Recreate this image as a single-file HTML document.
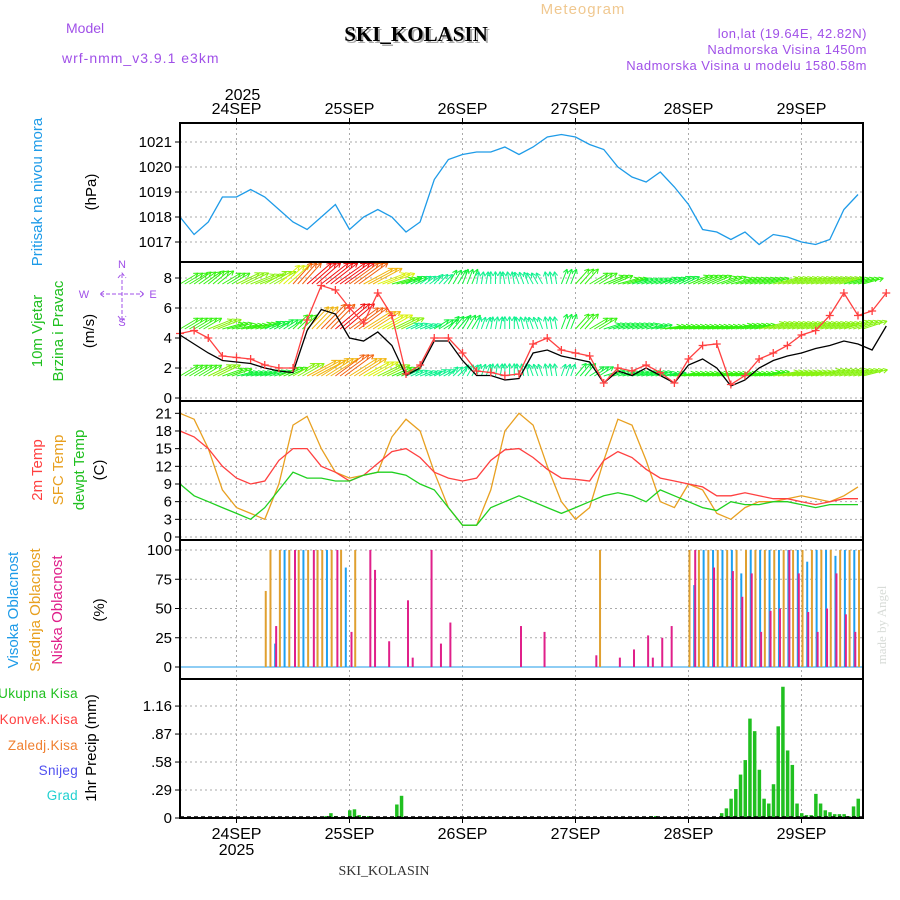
<!DOCTYPE html>
<html><head><meta charset="utf-8"><style>
body{margin:0;background:#fff;}
svg{display:block;font-family:"Liberation Sans",sans-serif;}
</style></head><body>
<svg id="c" width="900" height="900" viewBox="0 0 900 900">
<text x="583" y="14" font-size="15" fill="#f0c890" text-anchor="middle" letter-spacing="1">Meteogram</text>
<text x="418" y="43" font-size="21" font-weight="bold" font-family="Liberation Serif,serif" fill="#aaa" text-anchor="middle">SKI_KOLASIN</text>
<text x="416" y="41" font-size="21" font-weight="bold" font-family="Liberation Serif,serif" fill="#000" text-anchor="middle">SKI_KOLASIN</text>
<text x="66" y="33" font-size="14" fill="#a050e8">Model</text>
<text x="62" y="63" font-size="14" fill="#a050e8" letter-spacing="1">wrf-nmm_v3.9.1 e3km</text>
<text x="867" y="38" font-size="13" fill="#a050e8" text-anchor="end" letter-spacing="0.5">lon,lat (19.64E, 42.82N)</text>
<text x="867" y="54" font-size="13" fill="#a050e8" text-anchor="end" letter-spacing="0.5">Nadmorska Visina 1450m</text>
<text x="867" y="70" font-size="13" fill="#a050e8" text-anchor="end" letter-spacing="0.5">Nadmorska Visina u modelu 1580.58m</text>
<text x="384" y="875" font-size="14" font-family="Liberation Serif,serif" fill="#333" text-anchor="middle">SKI_KOLASIN</text>
<text transform="translate(886,625) rotate(-90)" font-size="13" font-family="Liberation Serif,serif" fill="#d8dcd8" text-anchor="middle">made by Angel</text>
<g id="g"></g>
</svg>
<script>
// ---- data ----
const dayLabels=["24SEP","25SEP","26SEP","27SEP","28SEP","29SEP"];
const pressure=[1018.0,1017.3,1017.8,1018.8,1018.8,1019.1,1018.8,1018.3,1017.8,1017.5,1018.0,1018.5,1017.5,1018.0,1018.3,1018.0,1017.4,1017.8,1019.5,1020.3,1020.5,1020.6,1020.6,1020.8,1020.5,1020.8,1021.2,1021.3,1021.2,1020.9,1020.7,1020.0,1019.6,1019.4,1019.8,1019.2,1018.5,1017.5,1017.4,1017.1,1017.4,1016.9,1017.3,1017.2,1017.0,1016.9,1017.1,1018.3,1018.9];
const pressTicks=[1017,1018,1019,1020,1021];
const windSpeed=[4.2,3.6,3.0,2.5,2.4,2.3,2.0,1.8,1.7,4.5,5.9,5.6,4.0,3.8,4.4,3.5,1.5,2.0,3.8,3.8,2.5,1.5,1.5,1.2,1.3,3.0,3.2,2.8,2.6,2.4,1.0,1.8,1.5,2.0,1.5,1.0,2.2,2.6,2.0,0.8,1.2,2.0,2.5,2.8,3.0,3.3,3.5,3.8,3.6,3.2,4.8];
const windGust=[4.3,4.5,4.0,2.8,2.7,2.6,2.2,2.0,2.0,5.2,7.5,7.2,6.0,5.0,7.0,5.5,1.6,2.2,4.0,4.0,3.0,1.8,1.7,1.5,1.6,3.6,4.0,3.2,3.0,2.8,1.0,2.0,1.8,2.2,1.7,1.0,2.6,3.5,3.6,0.9,1.5,2.6,3.0,3.5,4.2,4.5,5.5,7.0,5.5,5.8,7.0];
const windTicks=[0,2,4,6,8];
const dirTop=[60,55,50,60,65,70,60,45,30,35,40,45,50,60,70,80,70,60,45,30,20,10,0,350,340,330,350,20,40,60,70,80,80,80,75,70,70,70,75,80,80,80,80,80,80,80,80,80,80];
const spdTop=[5,5,5,5,6,6,6,7,9,10,10,10,9,8,7,5,4,3,3,4,4,3,3,3,3,3,3,4,5,5,5,5,4,4,4,4,5,5,5,5,5,5,6,6,6,6,6,5,5];
const dirMid=[60,60,70,80,85,80,70,60,45,40,40,45,50,55,60,65,75,80,60,40,30,20,10,0,345,340,350,20,40,60,80,80,80,85,90,90,90,90,90,85,85,80,80,80,80,80,80,75,75];
const spdMid=[5,5,6,5,5,5,4,4,5,8,9,10,9,8,7,6,3,3,4,4,4,3,3,3,3,3,3,4,5,5,4,4,4,4,5,5,5,5,5,5,5,6,6,6,6,6,6,6,6];
const dirLow=[60,60,65,75,85,85,80,70,60,60,55,50,55,60,65,70,75,80,70,50,30,20,10,0,350,340,350,20,40,60,80,85,85,85,90,90,90,90,90,90,90,85,85,85,85,80,80,80,80];
const spdLow=[5,5,6,5,4,4,4,5,6,8,8,9,8,7,6,5,3,3,3,3,3,3,3,3,3,3,3,3,4,4,4,4,4,4,4,5,5,5,5,5,5,5,6,6,6,6,6,6,6];
const temp2m=[18,17,15,12,10,9,9.5,13,15,15,12,11,9.5,10.5,12.5,14.5,15,13.5,11,10,9.5,10,13,14.8,15,13.5,11.5,10,9.8,9.5,13,14.5,13.5,11.5,10,9.5,9,8.5,7,7,7.5,7,6.5,6.5,6,5.5,6,6.5,6.5];
const tempSfc=[21,20,15,8,5,4,3,9,19,20.5,15,11,10,10.5,11,17,20,18,11,5,2,2,8,18,21,19,12,6,3,5,13,20,19,13,6,5,9,8,4,3,5,6,6,6.5,7,6.5,6,7,8.5];
const dewpt=[9,7,6,5,4,3,5,8,11,10,10,9.5,9.5,10.5,11,11,10.5,9,8,5,2,2,5,6,7,6,5,4,5,6,7,7.5,7,6,8,7,6,5,4.5,6,5.5,5.5,6,6,5.5,5,5.5,5.5,5.5];
const tempTicks=[0,3,6,9,12,15,18,21];
const highHours=[20,22,26,29,31,35,109,111,113,115,117,119,121,123,125,127,129,131,133,135,137,139,141,143];
const highVals=[20,100,100,100,100,85,70,100,100,100,100,80,100,100,100,100,100,100,90,100,100,95,100,100];
const midHours=[18,19,21,23,25,27,29,30,32,34,37,89,108,110,112,114,116,118,120,122,124,126,128,130,132,134,136,138,140,142,144];
const midVals=[65,100,100,100,100,100,100,100,100,100,100,100,100,100,100,100,100,100,100,100,100,100,100,100,100,100,100,100,100,100,100];
const lowHours=[20,24,28,33,36,40,41,44,48,49,53,55,57,72,77,88,93,96,99,100,102,104,109,113,117,119,121,123,125,127,129,131,133,135,137,139,141,143];
const lowVals=[35,100,100,100,30,100,83,22,57,8,100,20,38,35,30,10,8,15,27,8,25,35,100,85,82,60,80,30,48,50,100,80,47,30,50,80,45,30];
const cloudTicks=[0,25,50,75,100];
const precipHours=[31,32,33,36,37,38,39,40,46,47,100,101,115,116,117,118,119,120,121,122,123,124,125,126,127,128,129,130,131,132,133,134,135,136,137,138,139,140,141,142,143,144];
const precipVals=[0.02,0.05,0.02,0.08,0.09,0.03,0.02,0.02,0.14,0.23,0.02,0.02,0.05,0.1,0.2,0.3,0.45,0.6,1.03,0.9,0.5,0.2,0.15,0.35,0.95,1.36,0.7,0.55,0.15,0.05,0.03,0.03,0.25,0.15,0.08,0.06,0.04,0.04,0.04,0.02,0.12,0.2];
const precipTicks=[0,0.29,0.58,0.87,1.16];
// ---- layout ----
const NS="http://www.w3.org/2000/svg",G=document.getElementById('g');
const X0=180,X1=863,PX=113/24;
const xh=h=>X0+h*PX;
const x3=i=>xh(i*3);
function el(t,a,p){const e=document.createElementNS(NS,t);for(const k in a)e.setAttribute(k,a[k]);(p||G).appendChild(e);return e;}
function txt(x,y,s,a){const e=el('text',Object.assign({x:x,y:y,'font-size':15},a));e.textContent=s;return e;}
const panels=[[123,262],[262,401],[401,540],[540,679],[679,818]];
const yP=p=>142+(1021-p)*25;
const yW=v=>398-v*15;
const yT=v=>537-v*5.89;
const yC=v=>667-v*1.17;
const yR=v=>818-v*96.5;
function grid(top,bot,ticks,yf,fmt,name){
  for(let d=0;d<6;d++){const x=xh(12+24*d);
    const l=el('line',{x1:x,x2:x,y1:top,y2:bot,stroke:'#aaa','stroke-dasharray':'2,3'});
    }
  ticks.forEach(t=>{const y=yf(t);
    const l=el('line',{x1:X0,x2:X1,y1:y,y2:y,stroke:'#aaa','stroke-dasharray':'2,3'});
    
    el('line',{x1:X0-5,x2:X0,y1:y,y2:y,stroke:'#000'});
    const s=txt(X0-8,y+5,fmt(t),{'text-anchor':'end','font-size':15});
    });
}
function line(arr,xf,yf,col,name,w){const d=arr.map((v,i)=>(i?'L':'M')+xf(i).toFixed(1)+','+yf(v).toFixed(1)).join('');
  const p=el('path',{d:d,fill:'none',stroke:col,'stroke-width':w||1.3});
  return p;}
function vlabel(x,y,s,col,name,fs){const t=el('text',{transform:`translate(${x},${y}) rotate(-90)`,'font-size':fs||15,fill:col,'text-anchor':'middle'});t.textContent=s;
  }
// panel 1
grid(123,262,pressTicks,yP,v=>v,'pressure');
line(pressure.slice(0,49),x3,yP,'#1e9be8','pressure-line');
vlabel(42,192,'Pritisak na nivou mora','#1e9be8','pressure-title');
vlabel(96,192,'(hPa)','#000','pressure-unit');
// panel 2
grid(262,401,windTicks,yW,v=>v,'wind');
const rows=[[284,dirTop,spdTop],[329,dirMid,spdMid],[376,dirLow,spdLow]];
rows.forEach((r,ri)=>{for(let h=0;h<=145;h++){const i=Math.min(Math.floor(h/3),r[1].length-1);
  const a=(r[1][i])*Math.PI/180,s=r[2][i],L=s*4.2;const x=xh(h),y=r[0];
  const x2=x+Math.sin(a)*L,y2=Math.max(263,y-Math.cos(a)*L*0.75-3);
  const col=`hsl(${Math.max(0,220-s*22)},90%,50%)`;
  const ar=el('line',{x1:x,y1:y,x2:x2,y2:y2,stroke:col,'stroke-width':1});
  
  const b=Math.atan2(y2-y,x2-x);
  el('path',{d:`M${x2},${y2}L${x2-5*Math.cos(b-0.5)},${y2-5*Math.sin(b-0.5)}M${x2},${y2}L${x2-5*Math.cos(b+0.5)},${y2-5*Math.sin(b+0.5)}`,stroke:col,'stroke-width':1,fill:'none'});}});
line(windSpeed,x3,yW,'#000','wind-speed-line');
line(windGust,x3,yW,'#ff4040','wind-gust-line');
windGust.forEach((v,i)=>{const x=x3(i),y=yW(v);const m=el('path',{d:`M${x-4},${y}h8M${x},${y-4}v8`,stroke:'#ff4040','stroke-width':1.3});
  });
vlabel(42,331,'10m Vjetar','#20c020','wind-title');
vlabel(63,331,'Brzina i Pravac','#20c020','wind-subtitle');
vlabel(94,331,'(m/s)','#000','wind-unit');
const cg=el('g',{fill:'#a050e8','font-size':11,stroke:'none'});
[[122,268,'N'],[84,298,'W'],[153,298,'E'],[122,326,'S']].forEach(a=>{const t=el('text',{x:a[0],y:a[1],'text-anchor':'middle'},cg);t.textContent=a[2];});
el('path',{d:'M122,274v46M100,294h44M118,278l4,-5l4,5M118,316l4,5l4,-5M104,291l-4,3l4,3M140,291l4,3l-4,3',stroke:'#a050e8',fill:'none','stroke-dasharray':'4,2'});
// panel 3
grid(401,540,tempTicks,yT,v=>v,'temp');
line(tempSfc,x3,yT,'#e8a020','sfc-temp-line');
line(temp2m,x3,yT,'#ff4040','temp-2m-line');
line(dewpt,x3,yT,'#20d020','dewpoint-line');
vlabel(42,470,'2m Temp','#ff4040','temp-2m-title');
vlabel(63,470,'SFC Temp','#e8a020','sfc-temp-title');
vlabel(84,470,'dewpt Temp','#20c020','dewpoint-title');
vlabel(104,470,'(C)','#000','temp-unit');
// panel 4
grid(540,679,cloudTicks,yC,v=>v,'cloud');
el('line',{x1:X0,x2:X1,y1:667,y2:667,stroke:'#1e9be8','stroke-width':1});
function bars(hours,vals,col,off,name){hours.forEach((h,i)=>{const x=xh(h)+off;
  const b=el('rect',{x:x,y:yC(vals[i]),width:2,height:667-yC(vals[i]),fill:col});
  });}
bars(highHours,highVals,'#1ea0f0',0,'high-cloud-bar');
bars(midHours,midVals,'#e0a030',0,'mid-cloud-bar');
bars(lowHours,lowVals,'#e0208a',1,'low-cloud-bar');
vlabel(18,610,'Visoka Oblacnost','#1e9be8','high-cloud-title');
vlabel(40,610,'Srednja Oblacnost','#e8a020','mid-cloud-title');
vlabel(62,610,'Niska Oblacnost','#e0208a','low-cloud-title');
vlabel(104,610,'(%)','#000','cloud-unit');
// panel 5
grid(679,818,precipTicks,yR,v=>v===0?'0':v.toFixed(2).replace(/^0/,''),'precip');
precipHours.forEach((h,i)=>{const x=xh(h)-1.5;const b=el('rect',{x:x,y:yR(precipVals[i]),width:3.5,height:818-yR(precipVals[i]),fill:'#20c020'});
  });
el('line',{x1:X0,x2:X1,y1:817,y2:817,stroke:'#000','stroke-dasharray':'4,3','stroke-width':1.5});
[['Ukupna Kisa','#20c020',698],['Konvek.Kisa','#ff4040',724],['Zaledj.Kisa','#f08030',750],['Snijeg','#5050f0',775],['Grad','#20d0d0',800]].forEach(a=>{
  const t=txt(78,a[2],a[0],{fill:a[1],'text-anchor':'end','font-size':13.5,'letter-spacing':'0.3'});
  });
vlabel(96,748,'1hr Precip (mm)','#000','precip-unit');
// frames
panels.forEach(p=>{const r=el('rect',{x:X0,y:p[0],width:X1-X0,height:p[1]-p[0],fill:'none',stroke:'#000','stroke-width':2});
  });
// x labels
dayLabels.forEach((d,i)=>{const x=xh(12+24*i);
  const a=txt(x,114,d,{'text-anchor':'middle','font-size':16});
  const b=txt(x,839,d,{'text-anchor':'middle','font-size':16});
  el('line',{x1:x,x2:x,y1:818,y2:823,stroke:'#000'});el('line',{x1:x,x2:x,y1:118,y2:123,stroke:'#000'});});
const y1=txt(xh(12)+6,100,'2025',{'text-anchor':'middle','font-size':16});
const y2=txt(xh(12),855,'2025',{'text-anchor':'middle','font-size':16});
</script>
</body></html>
